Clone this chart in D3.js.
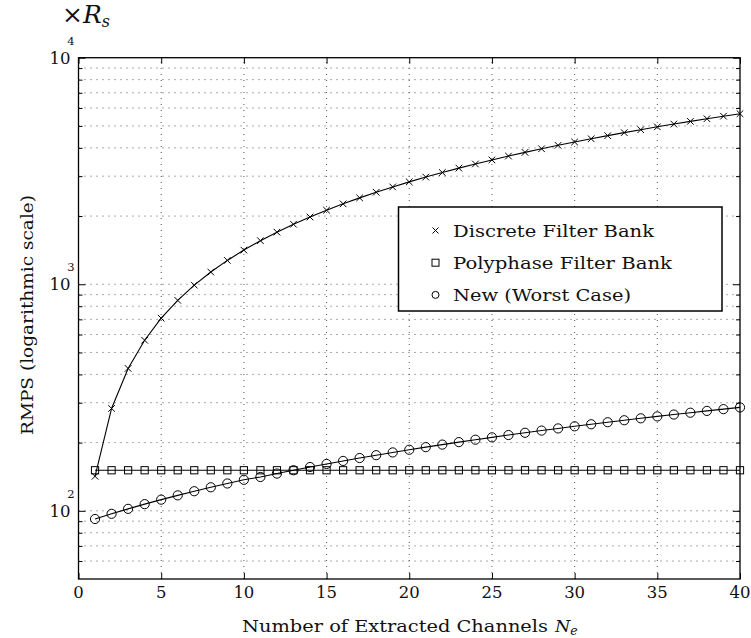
<!DOCTYPE html>
<html>
<head>
<meta charset="utf-8">
<script src="https://cdn.jsdelivr.net/npm/d3@7/dist/d3.min.js"></script>
<style>
  html, body { margin: 0; padding: 0; background: #fff; }
  svg { display: block; }
</style>
</head>
<body>
<svg id="chart" width="751" height="638" font-family="'DejaVu Serif', serif"></svg>
<script>
// Number of extracted channels
const channels = [1,2,3,4,5,6,7,8,9,10,11,12,13,14,15,16,17,18,19,20,
                  21,22,23,24,25,26,27,28,29,30,31,32,33,34,35,36,37,38,39,40];

// RMPS (multiples of Rs) for each approach
const discreteFB = [142,283,425,566,708,849,991,1132,1274,1415,
                    1557,1698,1840,1981,2123,2264,2406,2547,2689,2830,
                    2972,3113,3255,3396,3538,3679,3821,3962,4104,4245,
                    4387,4528,4670,4811,4953,5094,5236,5377,5519,5660];
const polyphaseFB = [151,151,151,151,151,151,151,151,151,151,
                     151,151,151,151,151,151,151,151,151,151,
                     151,151,151,151,151,151,151,151,151,151,
                     151,151,151,151,151,151,151,151,151,151];
const newWorst = [92,97,102,107,112,117,122,127,132,137,
                  141,146,151,156,161,166,171,176,181,186,
                  191,196,201,206,211,216,221,226,231,236,
                  241,246,251,256,261,266,271,276,281,286];

const xTicks = [0,5,10,15,20,25,30,35,40];
const yMajor = [100,1000,10000];
const yMajorExp = ["2","3","4"];
const yMinor = [60,70,80,90,200,300,400,500,600,700,800,900,
                2000,3000,4000,5000,6000,7000,8000,9000];
const seriesNames = ["Discrete Filter Bank","Polyphase Filter Bank","New (Worst Case)"];
const seriesMarkers = ["cross","square","circle"];

const svg = d3.select("#chart");
const L = 78.5, R = 740, T = 57.7, B = 579;
const ink = "#111";

const x = d3.scaleLinear().domain([0,40]).range([L,R]);
const y = d3.scaleLog().domain([50,10000]).range([B,T]);

// grid lines
const grid = svg.append("g").attr("stroke","#555").attr("stroke-width",1)
  .attr("stroke-dasharray","1,5").attr("fill","none");
xTicks.filter(v => v > 0 && v < 40).forEach(v => {
  grid.append("line").attr("x1",x(v)).attr("x2",x(v)).attr("y1",B).attr("y2",T);
});
yMajor.concat(yMinor).filter(v => v < 10000).forEach(v => {
  grid.append("line").attr("x1",L).attr("x2",R).attr("y1",y(v)).attr("y2",y(v));
});

// axes with inward ticks on all four sides
const axG = svg.append("g");
const tickStyle = g => { g.select(".domain").remove(); g.selectAll("line").attr("stroke","#000").attr("stroke-width",1); g.selectAll("text").remove(); };
axG.append("g").attr("transform",`translate(0,${B})`)
  .call(d3.axisBottom(x).tickValues(xTicks).tickSize(-6)).call(tickStyle);
axG.append("g").attr("transform",`translate(0,${T})`)
  .call(d3.axisTop(x).tickValues(xTicks).tickSize(-6)).call(tickStyle);
axG.append("g").attr("transform",`translate(${L},0)`)
  .call(d3.axisLeft(y).tickValues(yMajor).tickSize(-7)).call(tickStyle);
axG.append("g").attr("transform",`translate(${L},0)`)
  .call(d3.axisLeft(y).tickValues(yMinor).tickSize(-4)).call(tickStyle);
axG.append("g").attr("transform",`translate(${R},0)`)
  .call(d3.axisRight(y).tickValues(yMajor).tickSize(-7)).call(tickStyle);
axG.append("g").attr("transform",`translate(${R},0)`)
  .call(d3.axisRight(y).tickValues(yMinor).tickSize(-4)).call(tickStyle);

// x tick labels
svg.append("g").selectAll("text").data(xTicks).join("text")
  .attr("x", d => x(d)).attr("y", B + 19).attr("text-anchor","middle")
  .attr("font-size", 16.5).attr("fill",ink).text(d => d);

// y tick labels: 10 with exponent
yMajor.forEach((v,i) => {
  svg.append("text").attr("x", L - 8).attr("y", y(v) + 6)
    .attr("text-anchor","end").attr("font-size",16.5).attr("fill",ink).text("10");
  svg.append("text").attr("x", L - 4).attr("y", y(v) - 13)
    .attr("text-anchor","end").attr("font-size",11.5).attr("fill",ink).text(yMajorExp[i]);
});

// axis titles
svg.append("text").attr("x", 242).attr("y", 632)
  .attr("font-size",17.5).attr("fill",ink)
  .attr("textLength",306).attr("lengthAdjust","spacingAndGlyphs")
  .text("Number of Extracted Channels");
const ne = svg.append("text").attr("x", 555).attr("y", 632)
  .attr("font-size",17.5).attr("fill",ink).attr("font-style","italic");
ne.append("tspan").text("N");
ne.append("tspan").attr("font-size",12.5).attr("dy",3).text("e");

svg.append("text").attr("transform",`translate(33,315) rotate(-90)`)
  .attr("text-anchor","middle").attr("font-size",17.5).attr("fill",ink)
  .attr("textLength",240).attr("lengthAdjust","spacingAndGlyphs")
  .text("RMPS (logarithmic scale)");

const rs = svg.append("text").attr("x", 62).attr("y", 23).attr("font-size", 25).attr("fill",ink);
rs.append("tspan").text("\u00d7");
rs.append("tspan").attr("font-style","italic").text("R");
rs.append("tspan").attr("font-style","italic").attr("font-size",16).attr("dy",4).text("s");

// series
const allSeries = [discreteFB, polyphaseFB, newWorst];
const line = d3.line().x((d,i) => x(channels[i])).y(d => y(d));

function marker(g, type, cx, cy, s) {
  if (type === "cross") {
    g.append("path").attr("d",`M${cx-s},${cy-s}L${cx+s},${cy+s}M${cx-s},${cy+s}L${cx+s},${cy-s}`)
      .attr("stroke","#000").attr("stroke-width",1).attr("fill","none");
  } else if (type === "square") {
    g.append("rect").attr("x",cx-s).attr("y",cy-s).attr("width",2*s).attr("height",2*s)
      .attr("stroke","#000").attr("stroke-width",1).attr("fill","none");
  } else {
    g.append("circle").attr("cx",cx).attr("cy",cy).attr("r",s)
      .attr("stroke","#000").attr("stroke-width",1).attr("fill","none");
  }
}

const markerSize = {cross: 3.3, square: 3.6, circle: 4.6};
allSeries.forEach((vals, k) => {
  const g = svg.append("g");
  g.append("path").datum(vals).attr("d", line)
    .attr("fill","none").attr("stroke","#000").attr("stroke-width",1.1);
  vals.forEach((v,i) => marker(g, seriesMarkers[k], x(channels[i]), y(v), markerSize[seriesMarkers[k]]));
});

// frame
svg.append("rect").attr("x",L).attr("y",T).attr("width",R-L).attr("height",B-T)
  .attr("fill","none").attr("stroke","#000").attr("stroke-width",1.3);

// legend
const lg = svg.append("g");
lg.append("rect").attr("x",398.5).attr("y",207).attr("width",323.5).attr("height",104)
  .attr("fill","#fff").attr("stroke","#000").attr("stroke-width",1.5);
const legendSize = {cross: 3, square: 3.5, circle: 3.5};
const legendWidths = [201, 219, 178];
seriesNames.forEach((name,i) => {
  const cy = 230.5 + i*32.2;
  marker(lg, seriesMarkers[i], 435.5, cy, legendSize[seriesMarkers[i]]);
  lg.append("text").attr("x", 453).attr("y", cy + 6).attr("font-size",17.5).attr("fill",ink)
    .attr("textLength",legendWidths[i]).attr("lengthAdjust","spacingAndGlyphs").text(name);
});
</script>
</body>
</html>
